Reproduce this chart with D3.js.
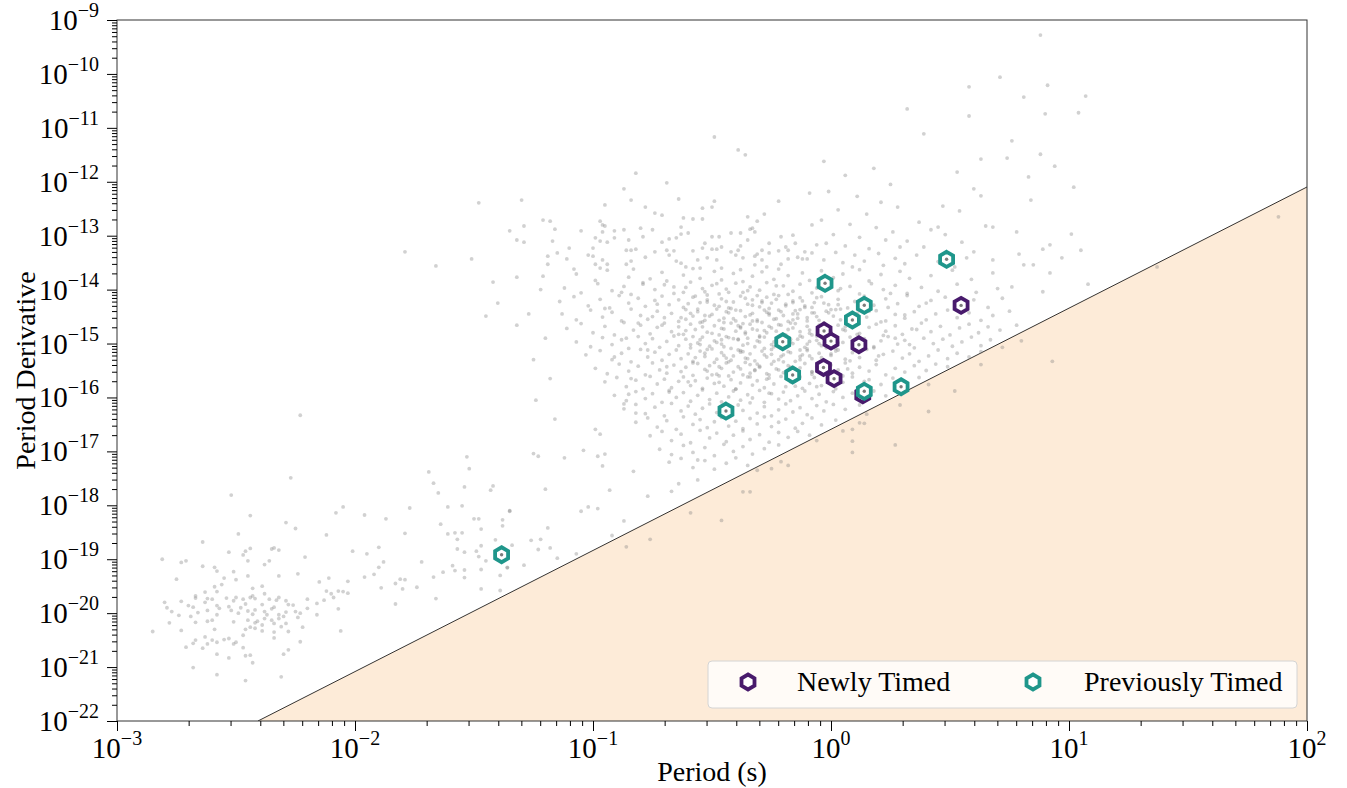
<!DOCTYPE html>
<html>
<head>
<meta charset="utf-8">
<script src="https://cdnjs.cloudflare.com/ajax/libs/d3/7.8.5/d3.min.js"></script>
<style>
  body { margin: 0; background: #fff; }
  svg { display: block; }
  text { font-family: "Liberation Serif", "Times New Roman", serif; fill: #000; }
</style>
</head>
<body>
<div id="chart"></div>
<script>
// tick exponents
const xTickExps = [-3, -2, -1, 0, 1, 2];
const yTickExps = [-22, -21, -20, -19, -18, -17, -16, -15, -14, -13, -12, -11, -10, -9];

// death line end points (P in s, Pdot)
const deathLineP = [0.00391, 100];
const deathLinePdot = [1e-22, 8.0e-13];

// timed pulsars
const newlyTimedP = [3.52, 0.935, 1.00, 1.31, 0.93, 1.03, 1.36];
const newlyTimedPdot = [5.1e-15, 1.71e-15, 1.11e-15, 9.5e-16, 3.6e-16, 2.23e-16, 1.12e-16];
const previouslyTimedP = [3.06, 0.944, 1.38, 1.23, 0.627, 0.69, 0.362, 1.38, 1.97, 0.0413];
const previouslyTimedPdot = [3.65e-14, 1.31e-14, 5.12e-15, 2.73e-15, 1.08e-15, 2.61e-16, 5.6e-17, 1.30e-16, 1.58e-16, 1.21e-19];

// background population, [log10 P, log10 Pdot]
const mspPulsars = [
[-2.52,-17.81],[-1.67,-17.59],[-1.65,-17.77],[-1.54,-17.66],[-1.42,-17.64],[-1.43,-17.72],[-2.44,-18.19],[-2.05,-18.03],[-2.08,-18.14],[-1.96,-18.18],
[-1.87,-18.25],[-1.77,-18.05],[-1.61,-18.03],[-1.55,-18.01],[-1.50,-18.25],[-1.48,-18.25],[-1.47,-18.44],[-1.64,-18.35],[-1.38,-18.27],[-1.35,-18.10],
[-1.38,-18.38],[-1.41,-18.64],[-2.29,-18.32],[-2.25,-18.43],[-2.49,-18.53],[-2.64,-18.68],[-2.12,-18.55],[-1.79,-18.52],[-1.61,-18.53],[-1.58,-18.51],
[-1.55,-18.51],[-1.57,-18.63],[-1.57,-18.81],[-1.54,-18.87],[-1.49,-18.85],[-1.48,-18.95],[-1.45,-19.03],[-1.47,-19.19],[-1.39,-19.30],[-1.34,-18.74],
[-1.36,-19.15],[-1.47,-19.55],[-1.39,-19.58],[-1.54,-19.34],[-1.54,-19.20],[-1.58,-19.21],[-1.59,-19.12],[-1.63,-19.24],[-1.67,-19.33],[-1.72,-19.05],
[-1.66,-19.73],[-1.74,-19.52],[-1.79,-19.38],[-1.80,-19.55],[-1.81,-19.37],[-1.83,-19.45],[-1.83,-19.83],[-1.90,-18.78],[-1.95,-18.90],[-2.01,-18.85],
[-1.88,-19.05],[-1.90,-19.15],[-1.92,-19.28],[-1.96,-19.33],[-1.89,-19.53],[-2.03,-19.41],[-2.03,-19.63],[-2.05,-19.60],[-2.07,-19.59],[-2.11,-19.35],
[-2.15,-19.42],[-2.12,-19.59],[-2.10,-19.64],[-2.09,-19.71],[-2.13,-19.76],[-2.16,-19.82],[-2.20,-19.74],[-2.24,-19.27],[-2.21,-18.96],[-2.32,-19.31],
[-2.36,-19.03],[-2.38,-19.10],[-2.34,-18.79],[-2.35,-18.81],[-2.32,-18.83],[-2.44,-18.80],[-2.46,-18.85],[-2.47,-18.92],[-2.45,-19.03],[-2.53,-18.87],
[-2.59,-19.15],[-2.58,-19.22],[-2.64,-19.13],[-2.71,-19.03],[-2.73,-19.06],[-2.81,-19.00],[-2.75,-19.37],[-2.55,-19.35],[-2.51,-19.23],[-2.45,-19.31],
[-2.50,-19.38],[-2.56,-19.47],[-2.59,-19.51],[-2.58,-19.60],[-2.63,-19.61],[-2.67,-19.68],[-2.67,-19.72],[-2.73,-19.78],[-2.80,-19.80],[-2.79,-19.90],
[-2.77,-19.97],[-2.74,-20.04],[-2.78,-20.18],[-2.85,-20.34],[-2.73,-20.32],[-2.70,-19.86],[-2.68,-19.89],[-2.69,-20.06],[-2.67,-20.17],[-2.66,-19.99],
[-2.62,-19.95],[-2.63,-19.80],[-2.62,-19.73],[-2.60,-19.74],[-2.62,-20.15],[-2.60,-20.13],[-2.58,-19.86],[-2.57,-19.91],[-2.58,-20.03],[-2.53,-19.88],
[-2.54,-19.72],[-2.51,-19.77],[-2.50,-19.71],[-2.52,-19.95],[-2.49,-20.00],[-2.51,-20.16],[-2.48,-19.90],[-2.47,-19.74],[-2.46,-19.83],[-2.45,-19.96],
[-2.44,-19.71],[-2.43,-19.54],[-2.43,-19.68],[-2.42,-19.73],[-2.42,-19.94],[-2.43,-20.02],[-2.45,-20.13],[-2.42,-20.18],[-2.39,-19.50],[-2.38,-19.64],
[-2.39,-19.84],[-2.38,-19.97],[-2.38,-20.10],[-2.39,-20.22],[-2.37,-20.03],[-2.36,-19.74],[-2.34,-19.89],[-2.33,-19.76],[-2.32,-19.71],[-2.35,-19.92],
[-2.32,-20.03],[-2.30,-20.06],[-2.29,-19.77],[-2.28,-19.84],[-2.26,-19.85],[-2.29,-19.98],[-2.34,-20.19],[-2.34,-20.35],[-2.31,-20.25],[-2.29,-20.19],
[-2.28,-20.34],[-2.34,-20.46],[-2.25,-19.97],[-2.24,-20.08],[-2.23,-20.00],[-2.22,-20.26],[-2.23,-20.53],[-2.28,-20.68],[-2.30,-20.76],[-2.31,-21.18],
[-2.06,-20.33],[-2.07,-19.92],[-2.16,-20.03],[-2.20,-19.91],[-2.46,-20.30],[-2.47,-20.41],[-2.50,-20.54],[-2.51,-20.57],[-2.53,-20.47],[-2.55,-20.49],
[-2.58,-20.54],[-2.60,-20.50],[-2.59,-20.30],[-2.63,-20.44],[-2.62,-20.57],[-2.64,-20.65],[-2.67,-20.50],[-2.68,-20.56],[-2.71,-20.63],[-2.58,-20.76],
[-2.53,-20.83],[-2.47,-20.64],[-2.46,-20.79],[-2.44,-20.78],[-2.43,-20.92],[-2.68,-21.01],[-2.58,-21.14],[-2.46,-21.25],[-2.44,-20.26],[-2.41,-20.15],
[-2.39,-20.33],[-2.32,-20.10],[-2.35,-20.13],[-2.42,-20.28]
];

const intermediatePulsars = [
[-2.23,-16.33],[-2.27,-17.49],[-1.69,-17.38],[-1.53,-17.10],[-1.52,-17.32],[-1.48,-12.39],[-1.35,-12.91],[-1.79,-13.30],[-1.66,-13.56],[-1.51,-13.43],
[-1.42,-13.86],[-1.40,-14.25],[-1.45,-14.49],[-1.32,-13.77],[-1.32,-14.66],[-1.32,-13.08],[-1.22,-14.00],[-1.27,-14.45],[-1.20,-14.90],[-1.25,-15.30],
[-1.18,-15.65],[-1.24,-16.05],[-1.16,-16.40],[-1.21,-13.75],
[-0.85,-15.94],[-0.87,-16.12],[-0.82,-16.29],[-0.99,-16.59],[-0.97,-16.68],[-1.25,-17.04],[-1.23,-17.09],[-1.12,-17.12],[-1.04,-16.98],[-0.98,-17.09],
[-0.95,-17.05],[-0.96,-17.27],[-0.83,-17.37],[-1.20,-17.70],[-0.93,-17.72],[-0.77,-17.83],[-0.67,-17.74],[-0.64,-17.60],[-0.56,-17.53],[-1.35,-18.11],
[-1.05,-18.11],[-1.02,-18.03],[-0.98,-18.06],[-0.87,-18.29],[-1.19,-18.42],[-1.47,-18.75],[-1.26,-18.65],[-1.22,-18.63],[-0.92,-18.56],[-1.18,-18.79],
[-1.23,-18.82],[-1.07,-18.90],[-1.15,-18.98],[-1.29,-19.11],[-1.36,-19.16],[-0.56,-17.16]
];

const belowDeathLine = [
[-0.76,-18.63],[-0.86,-18.77],[-0.59,-18.14],[-0.46,-18.28],[-0.37,-17.75],[-0.34,-17.75],[0.63,-15.39],[0.93,-15.33],[0.41,-15.76],[0.52,-15.88],
[0.29,-16.14],[0.41,-16.26],[0.12,-16.47],[0.14,-16.48],[0.09,-16.59],[0.09,-16.81],[0.27,-16.88],[0.09,-17.02],[0.15,-16.31],[1.88,-12.65],
[1.37,-13.58],[0.05,-16.62],[-0.06,-16.80],[-0.18,-17.26],[-0.21,-17.19],[-0.25,-17.32],[-0.31,-17.35]
];

const upperPulsars = [
[-0.49,-11.17],[-0.39,-11.41],[-0.36,-11.50],[-0.82,-11.84],[-0.69,-12.02],[-0.87,-12.13],[-0.09,-12.21],[-1.30,-12.34],[-0.22,-12.36],[-0.84,-12.34],
[-0.64,-12.32],[-0.49,-12.36],[-0.95,-12.43],[-0.78,-12.47],[-0.50,-12.47],[-0.54,-12.49],[-0.74,-12.58],[-0.71,-12.62],[-0.28,-12.60],[-0.62,-12.67],
[-0.58,-12.69],[-0.54,-12.69],[-0.35,-12.65],[-1.29,-13.12],[-1.29,-12.82],[-1.21,-12.71],[-1.18,-12.73],[-1.16,-12.88],[-1.17,-13.10],[-1.05,-12.91],
[-0.97,-12.73],[-0.96,-12.80],[-0.95,-12.82],[-0.96,-12.93],[-0.99,-13.04],[-0.97,-13.10],[-0.94,-13.12],[-1.00,-13.23],[-1.15,-13.32],[-1.19,-13.38],
[-1.19,-13.53],[-1.10,-13.23],[-1.11,-13.43],[-1.08,-13.62],[-1.02,-13.36],[-1.00,-13.38],[-0.99,-13.53],[-0.96,-13.45],[-0.94,-13.53],[-0.97,-13.60],
[-0.91,-12.91],[-0.87,-12.89],[-0.91,-13.04],[-0.85,-13.08],[-0.86,-13.27],[-0.84,-13.27],[-0.82,-13.25],[-0.80,-12.86],[-0.79,-13.02],[-0.75,-12.89],
[-0.74,-13.30],[-0.78,-13.40],[-0.84,-13.47],[-0.86,-13.53],[-0.71,-13.12],[-0.68,-13.06],[-0.65,-13.04],[-0.63,-12.97],[-0.63,-12.84],[-0.60,-12.95],
[-0.66,-13.28],[-0.69,-13.27],[-0.68,-13.36],[-0.65,-13.47],[-0.63,-13.51],[-0.61,-13.58],[-0.58,-13.28],[-0.56,-13.45],[-0.55,-13.60],[-0.54,-13.23],
[-0.53,-13.14],[-0.50,-13.02],[-0.47,-13.02],[-0.50,-13.25],[-0.48,-13.25],[-0.46,-13.21],[-0.52,-13.41],[-0.48,-13.45],[-0.46,-13.60],[-0.42,-12.95],
[-0.38,-12.95],[-0.42,-13.30],[-0.39,-13.27],[-0.38,-13.19],[-0.35,-13.08],[-0.34,-12.88],[-0.33,-12.86],[-0.32,-12.93],[-0.31,-12.73],[-0.40,-13.36],
[-0.37,-13.41],[-0.32,-13.38],[-0.31,-13.34],[-0.29,-13.27],[-0.26,-13.14],[-0.26,-13.32],[-0.22,-13.28],[-0.21,-13.02],[-0.19,-13.21],[-0.18,-13.27],
[-0.16,-12.99],[-0.15,-13.14],[-0.11,-13.30],[-0.08,-12.80],[-0.06,-13.17],[-0.14,-13.40],[-0.18,-13.43],[-0.12,-13.43],[-0.10,-13.43],[-0.08,-13.32],
[-0.21,-13.53],[-0.27,-13.58],[-0.29,-13.45],[-0.32,-13.54],
[0.88,-9.28],[0.71,-10.06],[0.58,-10.24],[0.91,-10.21],[0.81,-10.43],[1.07,-10.41],[0.32,-10.65],[0.58,-10.78],[0.90,-10.74],[1.04,-10.72],
[0.39,-11.11],[0.76,-11.24],[0.63,-11.58],[0.74,-11.56],[0.88,-11.49],[0.94,-11.71],[0.53,-11.82],[0.83,-11.91],[1.02,-12.10],[0.60,-12.13],
[0.63,-12.26],[0.84,-12.34],[0.47,-12.45],[0.54,-12.54],[0.78,-12.93],[1.01,-12.97],[0.65,-12.82],[0.68,-12.84],[0.37,-12.75],[0.42,-12.89],
[0.45,-12.84],[0.32,-13.10],[0.39,-13.21],[0.92,-13.17],[0.89,-13.25],[1.05,-13.27],[0.79,-13.34],[0.57,-13.41],[0.68,-13.45],[0.97,-13.41],
[0.81,-13.54],[0.85,-13.54],[0.92,-13.69],[1.08,-13.90],[0.76,-13.95],[0.89,-14.04],
[-0.03,-11.62],[0.06,-11.88],[0.18,-11.75],[0.25,-12.05],[-0.01,-12.18],[0.11,-12.27],[0.21,-12.38],[0.03,-12.52],[0.15,-12.60],[0.28,-12.47],
[-0.04,-12.71],[0.08,-12.79],[0.19,-12.85],[0.26,-12.93],[0.01,-12.98],[0.12,-13.03],[0.23,-13.08],[-0.02,-13.14],[0.06,-13.19],[0.16,-13.24],
[0.29,-13.21],[0.02,-13.31],[0.10,-13.36],[0.20,-13.33],[0.27,-13.42],[-0.03,-13.45],[0.05,-13.50],[0.14,-13.47],[0.22,-13.55],[0.09,-13.58],
[0.31,-13.52],[0.36,-13.36],[0.45,-13.48],[0.52,-13.58],[0.60,-13.30],[0.48,-12.98],[0.55,-13.12]
];

const corePulsars = [
[-1.07,-13.71],[-0.99,-13.83],[-0.94,-13.64],[-0.85,-13.77],[-0.83,-13.62],[-0.76,-13.80],[-0.71,-13.68],[-0.69,-13.84],[-0.62,-13.73],[-0.58,-13.61],
[-0.55,-13.79],[-0.49,-13.66],[-0.46,-13.82],[-0.41,-13.70],[-0.38,-13.63],[-0.37,-13.85],[-0.33,-13.75],[-0.29,-13.67],[-0.24,-13.81],[-0.22,-13.62],
[-0.18,-13.74],[-0.12,-13.69],[-0.09,-13.83],[-0.04,-13.65],[0.01,-13.78],[0.05,-13.71],[0.12,-13.63],[0.16,-13.84],[0.21,-13.72],[0.29,-13.66],
[0.33,-13.79],[0.42,-13.74],[0.51,-13.64],[0.59,-13.81],[0.68,-13.69],
[-1.12,-13.97],[-1.05,-14.06],[-0.98,-13.89],[-0.92,-14.02],[-0.87,-13.94],[-0.84,-14.09],[-0.79,-13.87],[-0.74,-14.00],[-0.70,-13.91],[-0.66,-14.07],
[-0.61,-13.96],[-0.59,-13.86],[-0.53,-14.04],[-0.50,-13.92],[-0.47,-14.08],[-0.44,-13.99],[-0.40,-13.88],[-0.37,-14.05],[-0.34,-13.95],[-0.30,-14.01],
[-0.27,-13.87],[-0.24,-14.09],[-0.20,-13.93],[-0.16,-14.03],[-0.13,-13.90],[-0.08,-14.06],[-0.06,-13.97],[-0.01,-13.88],[0.03,-14.02],[0.08,-13.94],
[0.12,-14.08],[0.17,-13.89],[0.22,-14.00],[0.27,-13.92],[0.32,-14.07],[0.38,-13.96],[0.45,-14.03],[0.53,-13.90],[0.61,-14.05],[0.70,-13.98],
[-1.14,-14.22],[-1.08,-14.13],[-1.02,-14.30],[-0.97,-14.18],[-0.93,-14.34],[-0.89,-14.11],[-0.85,-14.25],[-0.81,-14.16],[-0.78,-14.31],[-0.74,-14.20],
[-0.71,-14.12],[-0.68,-14.28],[-0.64,-14.19],[-0.62,-14.33],[-0.58,-14.14],[-0.55,-14.24],[-0.52,-14.10],[-0.49,-14.29],[-0.46,-14.17],[-0.43,-14.34],
[-0.41,-14.23],[-0.38,-14.12],[-0.35,-14.27],[-0.33,-14.19],[-0.30,-14.32],[-0.27,-14.14],[-0.25,-14.25],[-0.22,-14.11],[-0.19,-14.30],[-0.16,-14.21],
[-0.13,-14.15],[-0.11,-14.33],[-0.07,-14.24],[-0.04,-14.13],[-0.01,-14.28],[0.03,-14.18],[0.07,-14.34],[0.10,-14.22],[0.14,-14.12],[0.18,-14.29],
[0.23,-14.17],[0.28,-14.26],[0.32,-14.11],[0.37,-14.31],[0.42,-14.20],[0.48,-14.14],[0.54,-14.27],[0.60,-14.19],[0.66,-14.33],[0.72,-14.16],
[-1.13,-14.45],[-1.07,-14.56],[-1.01,-14.38],[-0.96,-14.51],[-0.92,-14.42],[-0.88,-14.58],[-0.84,-14.36],[-0.80,-14.48],[-0.77,-14.55],[-0.73,-14.40],
[-0.70,-14.52],[-0.67,-14.44],[-0.64,-14.59],[-0.61,-14.37],[-0.58,-14.49],[-0.56,-14.41],[-0.53,-14.57],[-0.50,-14.46],[-0.48,-14.36],[-0.45,-14.53],
[-0.43,-14.43],[-0.40,-14.58],[-0.38,-14.39],[-0.36,-14.50],[-0.33,-14.44],[-0.31,-14.56],[-0.28,-14.38],[-0.26,-14.47],[-0.23,-14.54],[-0.21,-14.41],
[-0.18,-14.59],[-0.16,-14.45],[-0.13,-14.37],[-0.10,-14.52],[-0.08,-14.43],[-0.05,-14.57],[-0.02,-14.40],[0.01,-14.49],[0.04,-14.36],[0.08,-14.55],
[0.11,-14.44],[0.15,-14.51],[0.19,-14.39],[0.23,-14.58],[0.27,-14.46],[0.31,-14.53],[0.35,-14.41],[0.40,-14.56],[0.44,-14.45],[0.49,-14.38],
[0.53,-14.52],[0.58,-14.43],[0.63,-14.57],[0.68,-14.48],[0.75,-14.40],
[-1.11,-14.72],[-1.05,-14.63],[-1.00,-14.80],[-0.95,-14.68],[-0.91,-14.84],[-0.87,-14.61],[-0.83,-14.75],[-0.80,-14.66],[-0.76,-14.82],[-0.73,-14.70],
[-0.70,-14.62],[-0.67,-14.78],[-0.64,-14.69],[-0.62,-14.83],[-0.59,-14.64],[-0.57,-14.74],[-0.54,-14.60],[-0.52,-14.79],[-0.49,-14.67],[-0.47,-14.84],
[-0.45,-14.73],[-0.42,-14.62],[-0.40,-14.77],[-0.38,-14.69],[-0.36,-14.82],[-0.34,-14.64],[-0.31,-14.75],[-0.29,-14.61],[-0.27,-14.80],[-0.25,-14.71],
[-0.22,-14.65],[-0.20,-14.83],[-0.18,-14.74],[-0.15,-14.63],[-0.13,-14.78],[-0.10,-14.68],[-0.08,-14.84],[-0.05,-14.72],[-0.03,-14.62],[0.00,-14.79],
[0.03,-14.66],[0.06,-14.76],[0.09,-14.61],[0.12,-14.81],[0.16,-14.70],[0.19,-14.64],[0.23,-14.77],[0.27,-14.67],[0.30,-14.83],[0.34,-14.73],
[0.38,-14.62],[0.42,-14.78],[0.46,-14.68],[0.50,-14.84],[0.54,-14.71],[0.58,-14.64],[0.62,-14.80],[0.66,-14.69],[0.71,-14.75],[0.78,-14.66],
[-1.07,-14.97],[-1.01,-15.06],[-0.96,-14.89],[-0.92,-15.02],[-0.88,-14.93],[-0.85,-15.09],[-0.81,-14.87],[-0.78,-15.00],[-0.75,-14.91],[-0.72,-15.07],
[-0.69,-14.96],[-0.66,-14.86],[-0.64,-15.04],[-0.61,-14.92],[-0.59,-15.08],[-0.56,-14.99],[-0.54,-14.88],[-0.51,-15.05],[-0.49,-14.95],[-0.46,-15.01],
[-0.44,-14.87],[-0.42,-15.09],[-0.39,-14.93],[-0.37,-15.03],[-0.35,-14.90],[-0.32,-15.06],[-0.30,-14.97],[-0.28,-14.88],[-0.25,-15.02],[-0.23,-14.94],
[-0.21,-15.08],[-0.18,-14.89],[-0.16,-15.00],[-0.14,-14.92],[-0.11,-15.07],[-0.09,-14.96],[-0.06,-14.86],[-0.04,-15.04],[-0.01,-14.93],[0.02,-15.09],
[0.05,-14.98],[0.08,-14.88],[0.11,-15.03],[0.14,-14.91],[0.18,-15.06],[0.21,-14.95],[0.24,-14.87],[0.28,-15.01],[0.31,-14.94],[0.35,-15.08],
[0.39,-14.90],[0.43,-15.00],[0.47,-14.92],[0.51,-15.05],[0.55,-14.97],[0.59,-14.88],[0.63,-15.04],[0.67,-14.93],[0.72,-15.07],[0.80,-14.95],
[-1.03,-15.21],[-0.97,-15.13],[-0.92,-15.30],[-0.88,-15.18],[-0.84,-15.34],[-0.80,-15.11],[-0.77,-15.25],[-0.74,-15.16],[-0.71,-15.31],[-0.68,-15.20],
[-0.65,-15.12],[-0.63,-15.28],[-0.60,-15.19],[-0.58,-15.33],[-0.55,-15.14],[-0.53,-15.24],[-0.50,-15.10],[-0.48,-15.29],[-0.46,-15.17],[-0.43,-15.34],
[-0.41,-15.23],[-0.39,-15.12],[-0.36,-15.27],[-0.34,-15.19],[-0.32,-15.32],[-0.29,-15.14],[-0.27,-15.25],[-0.25,-15.11],[-0.22,-15.30],[-0.20,-15.21],
[-0.18,-15.15],[-0.15,-15.33],[-0.13,-15.24],[-0.10,-15.13],[-0.08,-15.28],[-0.05,-15.18],[-0.03,-15.34],[0.00,-15.22],[0.03,-15.12],[0.06,-15.29],
[0.09,-15.17],[0.12,-15.26],[0.15,-15.11],[0.19,-15.31],[0.22,-15.20],[0.26,-15.14],[0.30,-15.27],[0.33,-15.19],[0.37,-15.33],[0.41,-15.23],
[0.45,-15.12],[0.49,-15.28],[0.53,-15.18],[0.58,-15.25],[0.63,-15.15],
[-0.99,-15.46],[-0.94,-15.56],[-0.89,-15.38],[-0.85,-15.51],[-0.81,-15.42],[-0.78,-15.58],[-0.75,-15.36],[-0.72,-15.49],[-0.69,-15.55],[-0.66,-15.40],
[-0.63,-15.52],[-0.61,-15.44],[-0.58,-15.59],[-0.56,-15.37],[-0.53,-15.48],[-0.51,-15.41],[-0.48,-15.57],[-0.46,-15.46],[-0.44,-15.36],[-0.41,-15.53],
[-0.39,-15.43],[-0.37,-15.58],[-0.34,-15.39],[-0.32,-15.50],[-0.30,-15.44],[-0.27,-15.56],[-0.25,-15.38],[-0.23,-15.47],[-0.20,-15.54],[-0.18,-15.41],
[-0.16,-15.59],[-0.13,-15.45],[-0.11,-15.37],[-0.08,-15.52],[-0.06,-15.43],[-0.03,-15.57],[0.00,-15.40],[0.03,-15.49],[0.06,-15.36],[0.09,-15.55],
[0.12,-15.44],[0.16,-15.51],[0.19,-15.39],[0.23,-15.58],[0.27,-15.46],[0.31,-15.53],[0.35,-15.41],[0.40,-15.50],[0.44,-15.38],[0.49,-15.43],
[-0.95,-15.71],[-0.90,-15.63],[-0.86,-15.80],[-0.82,-15.68],[-0.79,-15.84],[-0.76,-15.61],[-0.73,-15.75],[-0.70,-15.66],[-0.67,-15.82],[-0.64,-15.70],
[-0.62,-15.62],[-0.59,-15.78],[-0.57,-15.69],[-0.54,-15.83],[-0.52,-15.64],[-0.49,-15.74],[-0.47,-15.60],[-0.45,-15.79],[-0.42,-15.67],[-0.40,-15.84],
[-0.38,-15.73],[-0.35,-15.62],[-0.33,-15.77],[-0.31,-15.69],[-0.28,-15.82],[-0.26,-15.64],[-0.24,-15.75],[-0.21,-15.61],[-0.19,-15.80],[-0.17,-15.71],
[-0.14,-15.65],[-0.12,-15.83],[-0.09,-15.74],[-0.07,-15.63],[-0.04,-15.78],[-0.01,-15.68],[0.02,-15.84],[0.05,-15.72],[0.09,-15.62],[0.13,-15.79],
[0.16,-15.67],[0.21,-15.76],[0.26,-15.64],[0.31,-15.71],[0.37,-15.63],
[-0.91,-15.96],[-0.86,-16.06],[-0.82,-15.89],[-0.78,-16.02],[-0.75,-15.93],[-0.71,-16.09],[-0.68,-15.87],[-0.65,-16.00],[-0.62,-15.91],[-0.59,-16.07],
[-0.56,-15.96],[-0.54,-15.86],[-0.51,-16.04],[-0.48,-15.92],[-0.46,-16.08],[-0.43,-15.99],[-0.41,-15.88],[-0.38,-16.05],[-0.35,-15.95],[-0.33,-16.01],
[-0.30,-15.87],[-0.28,-16.09],[-0.25,-15.93],[-0.22,-16.03],[-0.20,-15.90],[-0.17,-16.06],[-0.14,-15.97],[-0.11,-15.88],[-0.08,-16.02],[-0.05,-15.94],
[-0.02,-16.08],[0.01,-15.89],[0.05,-16.00],[0.09,-15.92],[0.13,-16.05],[0.18,-15.88],[0.23,-15.97],[0.28,-15.90],
[-0.87,-16.21],[-0.82,-16.13],[-0.78,-16.30],[-0.74,-16.18],[-0.70,-16.34],[-0.67,-16.11],[-0.63,-16.25],[-0.60,-16.16],[-0.57,-16.31],[-0.54,-16.20],
[-0.51,-16.12],[-0.48,-16.28],[-0.45,-16.19],[-0.42,-16.33],[-0.39,-16.14],[-0.37,-16.24],[-0.34,-16.10],[-0.31,-16.29],[-0.28,-16.17],[-0.25,-16.34],
[-0.22,-16.23],[-0.19,-16.12],[-0.16,-16.27],[-0.13,-16.19],[-0.10,-16.32],[-0.06,-16.15],[-0.03,-16.25],[0.01,-16.13],[0.06,-16.22],[0.12,-16.14],
[-0.82,-16.46],[-0.77,-16.38],[-0.73,-16.55],[-0.69,-16.43],[-0.65,-16.59],[-0.62,-16.36],[-0.58,-16.50],[-0.55,-16.41],[-0.52,-16.56],[-0.49,-16.45],
[-0.46,-16.37],[-0.43,-16.53],[-0.40,-16.44],[-0.37,-16.58],[-0.34,-16.39],[-0.31,-16.49],[-0.28,-16.36],[-0.25,-16.54],[-0.22,-16.46],[-0.19,-16.40],
[-0.15,-16.57],[-0.12,-16.48],[-0.08,-16.38],[-0.04,-16.51],[0.02,-16.42],
[-0.76,-16.71],[-0.71,-16.63],[-0.67,-16.80],[-0.63,-16.68],[-0.59,-16.84],[-0.55,-16.61],[-0.51,-16.75],[-0.48,-16.66],[-0.44,-16.82],[-0.41,-16.70],
[-0.37,-16.62],[-0.34,-16.78],[-0.30,-16.69],[-0.26,-16.83],[-0.22,-16.65],[-0.18,-16.74],[-0.14,-16.63],[-0.09,-16.70],
[-0.72,-16.96],[-0.67,-17.06],[-0.62,-16.89],[-0.58,-17.02],[-0.53,-16.93],[-0.49,-17.08],[-0.45,-16.87],[-0.41,-17.00],[-0.37,-16.91],[-0.33,-17.05],
[-0.28,-16.95],[-0.22,-16.88],
[-0.68,-17.20],[-0.63,-17.13],[-0.58,-17.30],[-0.53,-17.17],[-0.49,-17.33],[-0.44,-17.22],[-0.40,-17.12],[-0.35,-17.26]
];

const denseCorePulsars = [
[-0.60,-14.26],[-0.56,-14.36],[-0.52,-14.19],[-0.47,-14.31],[-0.44,-14.22],[-0.40,-14.38],[-0.36,-14.16],[-0.33,-14.29],[-0.29,-14.24],[-0.26,-14.35],
[-0.23,-14.18],[-0.19,-14.27],[-0.15,-14.39],[-0.12,-14.21],[-0.08,-14.33],[-0.03,-14.25],[0.02,-14.37],
[-0.63,-14.52],[-0.59,-14.44],[-0.55,-14.61],[-0.51,-14.49],[-0.47,-14.57],[-0.44,-14.41],[-0.41,-14.54],[-0.37,-14.63],[-0.34,-14.47],[-0.31,-14.59],
[-0.27,-14.42],[-0.24,-14.55],[-0.20,-14.48],[-0.17,-14.62],[-0.14,-14.45],[-0.10,-14.58],[-0.06,-14.50],[-0.01,-14.43],[0.04,-14.56],
[-0.61,-14.76],[-0.58,-14.87],[-0.54,-14.69],[-0.50,-14.81],[-0.46,-14.72],[-0.43,-14.89],[-0.39,-14.67],[-0.36,-14.79],[-0.33,-14.73],[-0.30,-14.86],
[-0.26,-14.68],[-0.23,-14.77],[-0.19,-14.84],[-0.16,-14.71],[-0.12,-14.88],[-0.09,-14.75],[-0.05,-14.66],[0.00,-14.82],[0.05,-14.74],
[-0.59,-15.02],[-0.55,-14.93],[-0.52,-15.11],[-0.48,-14.98],[-0.45,-15.06],[-0.41,-14.91],[-0.38,-15.13],[-0.35,-15.00],[-0.31,-14.95],[-0.28,-15.09],
[-0.24,-14.97],[-0.21,-15.04],[-0.17,-14.92],[-0.13,-15.12],[-0.10,-15.01],[-0.06,-14.94],[-0.02,-15.08],[0.03,-14.99],
[-0.57,-15.26],[-0.53,-15.18],[-0.49,-15.35],[-0.45,-15.22],[-0.42,-15.31],[-0.38,-15.16],[-0.35,-15.28],[-0.31,-15.38],[-0.28,-15.21],[-0.24,-15.33],
[-0.21,-15.24],[-0.17,-15.17],[-0.13,-15.30],[-0.09,-15.23],[-0.05,-15.36],[0.00,-15.19],
[-0.52,-15.51],[-0.47,-15.43],[-0.43,-15.60],[-0.38,-15.47],[-0.34,-15.55],[-0.30,-15.42],[-0.26,-15.58],[-0.22,-15.49],[-0.17,-15.44],[-0.13,-15.62],
[-0.08,-15.53],[-0.03,-15.46],
[-0.88,-14.05],[-0.81,-14.62],[-0.77,-15.12],[-0.73,-14.27],[-0.69,-15.43],[-0.66,-13.95],[-0.64,-14.83],[-0.60,-15.71],[-0.57,-14.12],[-0.55,-15.02],
[-0.53,-14.48],[-0.50,-15.58],[-0.48,-13.89],[-0.46,-14.93],[-0.44,-15.27],[-0.42,-14.35],[-0.40,-15.85],[-0.38,-14.71],[-0.37,-15.15],[-0.35,-14.02],
[-0.33,-14.58],[-0.32,-15.49],[-0.30,-14.88],[-0.29,-14.21],[-0.27,-15.66],[-0.26,-14.44],[-0.24,-15.06],[-0.23,-13.93],[-0.21,-14.66],[-0.20,-15.34],
[-0.18,-14.09],[-0.17,-14.97],[-0.15,-15.79],[-0.14,-14.53],[-0.12,-15.21],[-0.11,-14.30],[-0.09,-14.81],[-0.08,-15.57],[-0.06,-14.15],[-0.05,-15.00],
[-0.03,-14.62],[-0.02,-15.41],[0.00,-14.37],[0.02,-15.14],[0.04,-13.98],[0.06,-14.69],[0.08,-15.32],[0.10,-14.50],[0.13,-14.95],[0.15,-14.18],
[0.18,-15.08],[0.21,-14.60],[0.24,-14.33],[0.27,-14.90],[0.31,-14.47],[0.36,-14.74],[-0.86,-14.90],[-0.79,-13.90],[-0.71,-14.66],[-0.62,-14.05],
[-0.58,-15.36],[-0.52,-14.23],[-0.47,-15.72],[-0.43,-14.05],[-0.39,-14.92],[-0.34,-15.62],[-0.31,-14.11],[-0.28,-14.76],[-0.25,-15.20],[-0.22,-14.38],
[-0.19,-15.55],[-0.16,-14.24],[-0.13,-14.86],[-0.10,-15.10],[-0.07,-14.43],[-0.04,-15.26],[-0.01,-14.72],[0.03,-14.28],[0.07,-15.47],[0.11,-14.83],
[0.16,-14.40],[0.20,-15.23],[0.25,-14.07],[0.33,-15.02],[-0.95,-14.35],[-0.91,-15.25],[-0.84,-15.65],[-0.75,-14.50],[-0.68,-15.90],[-0.61,-14.55],
[-0.54,-13.98],[-0.45,-14.61],[-0.36,-15.35],[-0.26,-15.92],[-0.16,-14.56],[-0.06,-15.80],[0.05,-15.60],[0.14,-15.70],[0.22,-14.85],[0.40,-14.25]
];

const width = 1347, height = 788;
const margin = { top: 20, right: 40, bottom: 67, left: 117 };
const purple = '#481a6c', teal = '#1f968b';

const svg = d3.select('#chart').append('svg')
    .attr('width', width)
    .attr('height', height);

const x = d3.scaleLog().domain([1e-3, 1e2]).range([margin.left, width - margin.right]);
const y = d3.scaleLog().domain([1e-22, 1e-9]).range([height - margin.bottom, margin.top]);

svg.append('clipPath').attr('id', 'plot-clip')
    .append('rect')
    .attr('x', margin.left).attr('y', margin.top)
    .attr('width', x.range()[1] - x.range()[0])
    .attr('height', y.range()[0] - y.range()[1]);

const plot = svg.append('g').attr('clip-path', 'url(#plot-clip)');

// region below the death line
const deathPts = deathLineP.map((p, i) => [p, deathLinePdot[i]]);
const fillPts = deathPts.concat([[deathLineP[1], y.domain()[0]]]);
const line = d3.line().x(d => x(d[0])).y(d => y(d[1]));

plot.append('path')
    .attr('d', line(fillPts) + 'Z')
    .attr('fill', '#fdebd8');

plot.append('path')
    .attr('d', line(deathPts))
    .attr('fill', 'none')
    .attr('stroke', '#000')
    .attr('stroke-width', 0.8);

const background = [].concat(mspPulsars, intermediatePulsars, belowDeathLine, upperPulsars, corePulsars, denseCorePulsars);

plot.append('g')
    .selectAll('circle')
    .data(background)
    .join('circle')
    .attr('cx', d => x(Math.pow(10, d[0])))
    .attr('cy', d => y(Math.pow(10, d[1])))
    .attr('r', 1.9)
    .attr('fill', '#808080')
    .attr('fill-opacity', 0.36);

// matplotlib 'h' style hexagon, pointy top
function hexagon(r) {
    const pts = d3.range(6).map(i => {
        const a = Math.PI / 3 * i - Math.PI / 2;
        return [r * Math.cos(a), r * Math.sin(a)];
    });
    return 'M' + pts.map(p => p.join(',')).join('L') + 'Z';
}

function drawTimed(P, Pdot, color) {
    const data = P.map((p, i) => [p, Pdot[i]]);
    plot.append('g')
        .selectAll('path')
        .data(data)
        .join('path')
        .attr('transform', d => `translate(${x(d[0])},${y(d[1])})`)
        .attr('d', hexagon(7.5))
        .attr('fill', '#fff')
        .attr('stroke', color)
        .attr('stroke-width', 3.8);
    plot.append('g')
        .selectAll('circle')
        .data(data)
        .join('circle')
        .attr('cx', d => x(d[0]))
        .attr('cy', d => y(d[1]))
        .attr('r', 1.7)
        .attr('fill', '#6e6e6e')
        .attr('fill-opacity', 0.9);
}

drawTimed(newlyTimedP, newlyTimedPdot, purple);
drawTimed(previouslyTimedP, previouslyTimedPdot, teal);

// frame
svg.append('rect')
    .attr('x', margin.left).attr('y', margin.top)
    .attr('width', x.range()[1] - x.range()[0])
    .attr('height', y.range()[0] - y.range()[1])
    .attr('fill', 'none')
    .attr('stroke', '#333')
    .attr('stroke-width', 1);

// axes
const minorOf = exps => exps.slice(0, -1).flatMap(e => d3.range(2, 10).map(m => m * Math.pow(10, e)));
const xMajor = xTickExps.map(e => Math.pow(10, e));
const yMajor = yTickExps.map(e => Math.pow(10, e));

const xAxisG = svg.append('g').attr('transform', `translate(0,${y.range()[0]})`);
xAxisG.append('g').call(d3.axisBottom(x).tickValues(xMajor).tickSize(10).tickSizeOuter(0).tickFormat(''));
xAxisG.append('g').call(d3.axisBottom(x).tickValues(minorOf(xTickExps)).tickSize(5).tickSizeOuter(0).tickFormat(''));

const yAxisG = svg.append('g').attr('transform', `translate(${x.range()[0]},0)`);
yAxisG.append('g').call(d3.axisLeft(y).tickValues(yMajor).tickSize(10).tickSizeOuter(0).tickFormat(''));
yAxisG.append('g').call(d3.axisLeft(y).tickValues(minorOf(yTickExps)).tickSize(5).tickSizeOuter(0).tickFormat(''));

svg.selectAll('.domain').remove();
svg.selectAll('.tick line').attr('stroke', '#000').attr('stroke-width', 1);

const expLabel = (sel, e) => {
    sel.append('tspan').text('10').style('font-size', '29px');
    sel.append('tspan').text(e < 0 ? '\u2212' + Math.abs(e) : e)
        .attr('dy', -13)
        .style('font-size', '20px');
};

xTickExps.forEach(e => {
    svg.append('text')
        .attr('x', x(Math.pow(10, e)))
        .attr('y', 758)
        .attr('text-anchor', 'middle')
        .call(expLabel, e);
});

yTickExps.forEach(e => {
    svg.append('text')
        .attr('x', 99)
        .attr('y', y(Math.pow(10, e)) + 10)
        .attr('text-anchor', 'end')
        .call(expLabel, e);
});

svg.append('text')
    .attr('x', (x.range()[0] + x.range()[1]) / 2)
    .attr('y', 781)
    .attr('text-anchor', 'middle')
    .style('font-size', '28px')
    .text('Period (s)');

svg.append('text')
    .attr('transform', `translate(35,${(y.range()[0] + y.range()[1]) / 2}) rotate(-90)`)
    .attr('text-anchor', 'middle')
    .style('font-size', '28px')
    .text('Period Derivative');

// legend
const legend = svg.append('g');
legend.append('rect')
    .attr('x', 708).attr('y', 661)
    .attr('width', 589).attr('height', 47)
    .attr('rx', 4)
    .attr('fill', '#fff')
    .attr('fill-opacity', 0.8)
    .attr('stroke', '#d4d4d4')
    .attr('stroke-width', 1);

[['Newly Timed', purple, 748, 797], ['Previously Timed', teal, 1033, 1084]].forEach(([label, color, mx, tx]) => {
    legend.append('path')
        .attr('transform', `translate(${mx},682)`)
        .attr('d', hexagon(7.5))
        .attr('fill', '#fff')
        .attr('stroke', color)
        .attr('stroke-width', 3.8);
    legend.append('text')
        .attr('x', tx)
        .attr('y', 691)
        .style('font-size', '28px')
        .text(label);
});
</script>
</body>
</html>
